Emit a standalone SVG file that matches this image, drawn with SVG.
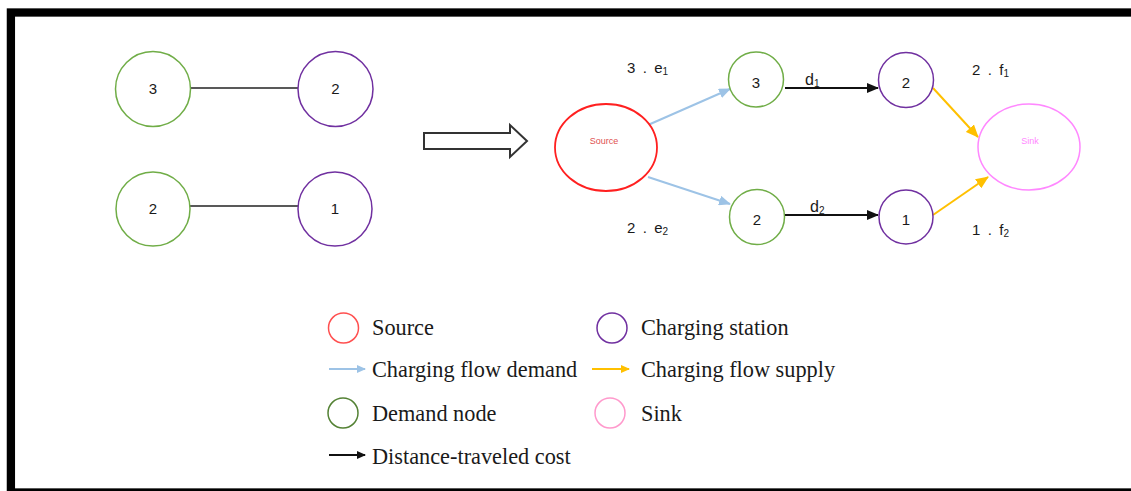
<svg xmlns="http://www.w3.org/2000/svg" width="1131" height="491" viewBox="0 0 1131 491">
  <style>
    .num { font-family: "Liberation Sans", Arial, sans-serif; font-size: 15px; fill: #1a1a1a; text-anchor: middle; }
    .lbl { font-family: "Liberation Sans", Arial, sans-serif; font-size: 15px; fill: #1a1a1a; letter-spacing: 1.6px; }
    .sub { font-size: 10px; letter-spacing: 0; }
    .dl { font-family: "Liberation Sans", Arial, sans-serif; font-size: 16px; fill: #1a1a1a; }
    .leg { font-family: "Liberation Serif", "Times New Roman", serif; font-size: 22.3px; fill: #1a1a1a; }
    .demand { fill: #fff; stroke: #70ad47; stroke-width: 1.5; }
    .station { fill: #fff; stroke: #7030a0; stroke-width: 1.5; }
    .blue { stroke: #9dc3e6; stroke-width: 2; fill: none; }
    .yellow { stroke: #ffc000; stroke-width: 2; fill: none; }
    .black { stroke: #111; stroke-width: 2; fill: none; }
    .plain { stroke: #595959; stroke-width: 2.2; fill: none; }
  </style>
  <defs>
    <marker id="ahBlue" markerUnits="userSpaceOnUse" markerWidth="12" markerHeight="10" refX="11" refY="5" orient="auto">
      <path d="M0,0 L12,5 L0,10 Z" fill="#9dc3e6"/>
    </marker>
    <marker id="ahYellow" markerUnits="userSpaceOnUse" markerWidth="13" markerHeight="11" refX="12" refY="5.5" orient="auto">
      <path d="M0,0 L13,5.5 L0,11 Z" fill="#ffc000"/>
    </marker>
    <marker id="ahBlack" markerUnits="userSpaceOnUse" markerWidth="12" markerHeight="10" refX="11" refY="5" orient="auto">
      <path d="M0,0 L12,5 L0,10 Z" fill="#111"/>
    </marker>
    <marker id="ahBlueS" markerUnits="userSpaceOnUse" markerWidth="9" markerHeight="8" refX="8" refY="4" orient="auto">
      <path d="M0,0 L9,4 L0,8 Z" fill="#9dc3e6"/>
    </marker>
    <marker id="ahYellowS" markerUnits="userSpaceOnUse" markerWidth="9" markerHeight="8" refX="8" refY="4" orient="auto">
      <path d="M0,0 L9,4 L0,8 Z" fill="#ffc000"/>
    </marker>
    <marker id="ahBlackS" markerUnits="userSpaceOnUse" markerWidth="9" markerHeight="8" refX="8" refY="4" orient="auto">
      <path d="M0,0 L9,4 L0,8 Z" fill="#111"/>
    </marker>
  </defs>

  <!-- page background and frame -->
  <rect x="0" y="0" width="1131" height="491" fill="#fff"/>
  <rect x="10.9" y="12.5" width="1200" height="480" fill="none" stroke="#000" stroke-width="8.3"/>

  <!-- connectors -->
  <g id="connectors">
    <line class="plain" x1="190" y1="88" x2="298" y2="88"/>
    <line class="plain" x1="190" y1="206" x2="298" y2="206"/>
    <line class="blue" x1="648" y1="125" x2="730" y2="89" marker-end="url(#ahBlue)"/>
    <line class="blue" x1="648" y1="177" x2="730" y2="204" marker-end="url(#ahBlue)"/>
    <line class="black" x1="785" y1="88" x2="878" y2="88" marker-end="url(#ahBlack)"/>
    <line class="black" x1="785" y1="215" x2="878" y2="215" marker-end="url(#ahBlack)"/>
    <line class="yellow" x1="933" y1="88" x2="978" y2="137" marker-end="url(#ahYellow)"/>
    <line class="yellow" x1="933" y1="215" x2="988" y2="177" marker-end="url(#ahYellow)"/>
  </g>

  <!-- left: original network -->
  <g id="left-demand-3"><circle class="demand" cx="153" cy="89" r="37.5"/><text class="num" x="153" y="94">3</text></g>
  <g id="left-station-2"><circle class="station" cx="335.5" cy="89" r="37.5"/><text class="num" x="335.5" y="94">2</text></g>
  <g id="left-demand-2"><circle class="demand" cx="153" cy="209" r="37"/><text class="num" x="153" y="214">2</text></g>
  <g id="left-station-1"><circle class="station" cx="335" cy="209" r="37"/><text class="num" x="335" y="214">1</text></g>

  <!-- transformation arrow -->
  <g id="transform-arrow">
    <polygon points="424,133 510,133 510,125 527,141 510,157 510,149 424,149" fill="#fff" stroke="#333" stroke-width="2"/>
  </g>

  <!-- right: flow network -->
  <g id="source">
    <ellipse cx="606" cy="147.5" rx="51" ry="43.5" fill="#fff" stroke="#ff2020" stroke-width="1.8"/>
    <text x="604" y="144" font-family="Liberation Sans, Arial, sans-serif" font-size="9" fill="#e05050" text-anchor="middle">Source</text>
  </g>
  <g id="sink">
    <ellipse cx="1029" cy="147" rx="51" ry="43" fill="#fff" stroke="#ff88ff" stroke-width="1.5"/>
    <text x="1030" y="144" font-family="Liberation Sans, Arial, sans-serif" font-size="9" fill="#ff88ff" text-anchor="middle">Sink</text>
  </g>
  <g id="demand-3"><circle class="demand" cx="756" cy="79.5" r="27.5"/><text class="num" x="756" y="88">3</text></g>
  <g id="demand-2"><circle class="demand" cx="757" cy="217" r="27.5"/><text class="num" x="757" y="225">2</text></g>
  <g id="station-2"><circle class="station" cx="906" cy="80" r="27.5"/><text class="num" x="906" y="88">2</text></g>
  <g id="station-1"><circle class="station" cx="906" cy="217" r="27"/><text class="num" x="906" y="225">1</text></g>

  <!-- edge labels -->
  <g id="edge-labels">
    <text class="lbl" x="627" y="73" xml:space="preserve">3 . e<tspan class="sub" dx="-1.6" dy="2">1</tspan></text>
    <text class="lbl" x="627" y="233" xml:space="preserve">2 . e<tspan class="sub" dx="-1.6" dy="2">2</tspan></text>
    <text class="lbl" x="972" y="75" xml:space="preserve">2 . f<tspan class="sub" dx="-1.6" dy="2">1</tspan></text>
    <text class="lbl" x="972" y="235" xml:space="preserve">1 . f<tspan class="sub" dx="-1.6" dy="2">2</tspan></text>
    <text class="dl" x="805" y="85">d<tspan font-size="10" dy="2">1</tspan></text>
    <text class="dl" x="810" y="212">d<tspan font-size="10" dy="2">2</tspan></text>
  </g>

  <!-- legend -->
  <g id="legend">
    <circle cx="343.5" cy="328" r="15" fill="none" stroke="#ff5050" stroke-width="1.5"/>
    <text class="leg" x="372" y="335">Source</text>
    <circle cx="612" cy="328" r="15" fill="none" stroke="#7030a0" stroke-width="1.5"/>
    <text class="leg" x="641" y="335">Charging station</text>
    <line class="blue" x1="329" y1="369" x2="365" y2="369" stroke-width="1.5" marker-end="url(#ahBlueS)"/>
    <text class="leg" x="372" y="377">Charging flow demand</text>
    <line class="yellow" x1="592" y1="369" x2="629" y2="369" stroke-width="1.5" marker-end="url(#ahYellowS)"/>
    <text class="leg" x="641" y="377">Charging flow supply</text>
    <circle cx="343" cy="413" r="15" fill="none" stroke="#548235" stroke-width="1.5"/>
    <text class="leg" x="372" y="421">Demand node</text>
    <circle cx="610" cy="413" r="15" fill="none" stroke="#ff99cc" stroke-width="1.5"/>
    <text class="leg" x="641" y="421">Sink</text>
    <line class="black" x1="329" y1="455" x2="365" y2="455" stroke-width="1.5" marker-end="url(#ahBlackS)"/>
    <text class="leg" x="372" y="464">Distance-traveled cost</text>
  </g>
</svg>
